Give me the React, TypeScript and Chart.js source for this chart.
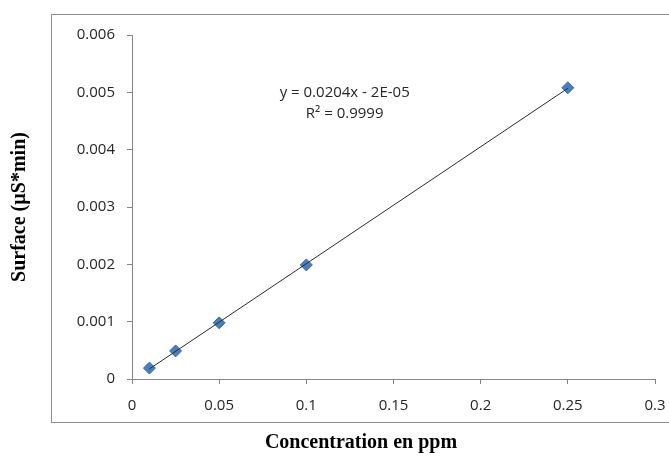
import React, { useEffect, useRef } from "react";
import { Chart, registerables } from "chart.js";

Chart.register(...registerables);

const concentrations = [0.01, 0.025, 0.05, 0.1, 0.25];
const surfaces = [0.00019, 0.00049, 0.00098, 0.00199, 0.00508];
const xTicks = [0, 0.05, 0.1, 0.15, 0.2, 0.25, 0.3];
const yTicks = [0, 0.001, 0.002, 0.003, 0.004, 0.005, 0.006];
const equationLines = ["y = 0.0204x - 2E-05", "R² = 0.9999"];
const xTitle = "Concentration en ppm";
const yTitle = "Surface (µS*min)";

function fitLine(xs: number[], ys: number[]) {
  const n = xs.length;
  const mx = xs.reduce((a, b) => a + b, 0) / n;
  const my = ys.reduce((a, b) => a + b, 0) / n;
  let sxy = 0, sxx = 0;
  for (let i = 0; i < n; i++) {
    sxy += (xs[i] - mx) * (ys[i] - my);
    sxx += (xs[i] - mx) * (xs[i] - mx);
  }
  const slope = sxy / sxx;
  return { slope, intercept: my - slope * mx };
}

const fmt = (v: number) => String(Number(v.toFixed(4)));

export default function App() {
  const ref = useRef<HTMLCanvasElement>(null);
  useEffect(() => {
    document.body.style.margin = "0";
    const { slope, intercept } = fitLine(concentrations, surfaces);
    const xMin = Math.min(...concentrations);
    const xMax = Math.max(...concentrations);
    const trend = [
      { x: xMin, y: slope * xMin + intercept },
      { x: xMax, y: slope * xMax + intercept },
    ];
    const tickFont = { family: "'Open Sans', sans-serif", size: 15 };
    const axisColor = "#868686";

    const decor = {
      id: "decor",
      beforeDraw(chart: any) {
        const ctx = chart.ctx;
        ctx.save();
        ctx.strokeStyle = "#8e8e8e";
        ctx.lineWidth = 1;
        ctx.strokeRect(51.5, 14.5, 700, 408);
        ctx.restore();
      },
      afterDraw(chart: any) {
        const ctx = chart.ctx;
        const xs = chart.scales.x;
        const ys = chart.scales.y;
        ctx.save();
        ctx.fillStyle = "#262626";
        ctx.font = "15px 'Open Sans', sans-serif";
        ctx.textAlign = "center";
        ctx.textBaseline = "middle";
        const cx = xs.getPixelForValue(0.122);
        const cy = ys.getPixelForValue(0.005);
        equationLines.forEach((t, i) => ctx.fillText(t, cx, cy + i * 21));
        ctx.fillStyle = "#000";
        ctx.font = "bold 20px 'Liberation Serif', serif";
        ctx.fillText(xTitle, 361, 443);
        ctx.restore();
      },
    };

    const chart = new Chart(ref.current!, {
      type: "scatter",
      data: {
        datasets: [
          {
            type: "line",
            data: trend,
            borderColor: "#2b2b2b",
            borderWidth: 1,
            pointRadius: 0,
            fill: false,
          },
          {
            data: concentrations.map((x, i) => ({ x, y: surfaces[i] })),
            pointStyle: "rectRot",
            pointRadius: 6,
            backgroundColor: "#4a7ebb",
            borderColor: "#3c6ca6",
            borderWidth: 1,
          },
        ],
      },
      options: {
        responsive: false,
        animation: false,
        layout: { padding: { top: 35, right: 14, left: 0, bottom: 0 } },
        plugins: { legend: { display: false }, tooltip: { enabled: false } },
        scales: {
          x: {
            type: "linear",
            min: xTicks[0],
            max: xTicks[xTicks.length - 1],
            afterBuildTicks: (s: any) => {
              s.ticks = xTicks.map((v) => ({ value: v }));
            },
            afterFit: (s: any) => {
              s.height = 85;
              s.paddingLeft = 0;
              s.paddingRight = 0;
            },
            border: { display: true, color: axisColor, width: 1 },
            grid: { drawOnChartArea: false, drawTicks: true, tickLength: 5, color: axisColor },
            ticks: { font: tickFont, color: "#262626", padding: 13, maxRotation: 0, callback: (v: any) => fmt(Number(v)) },
          },
          y: {
            type: "linear",
            min: yTicks[0],
            max: yTicks[yTicks.length - 1],
            afterBuildTicks: (s: any) => {
              s.ticks = yTicks.map((v) => ({ value: v }));
            },
            afterFit: (s: any) => {
              s.width = 132;
              s.paddingTop = 0;
              s.paddingBottom = 0;
            },
            border: { display: true, color: axisColor, width: 1 },
            grid: { drawOnChartArea: false, drawTicks: true, tickLength: 5, color: axisColor },
            ticks: { font: tickFont, color: "#262626", padding: 12, callback: (v: any) => fmt(Number(v)) },
            title: {
              display: true,
              text: yTitle,
              color: "#000",
              font: { family: "'Liberation Serif', serif", size: 20, weight: "bold" },
              padding: { top: 8, bottom: 0 },
            },
          },
        },
      },
      plugins: [decor],
    });
    return () => chart.destroy();
  }, []);
  return (
    <div style={{ position: "absolute", left: 0, top: 0, width: 669, height: 464, background: "#fff" }}>
      <canvas ref={ref} width={669} height={464} style={{ display: "block" }} />
    </div>
  );
}
